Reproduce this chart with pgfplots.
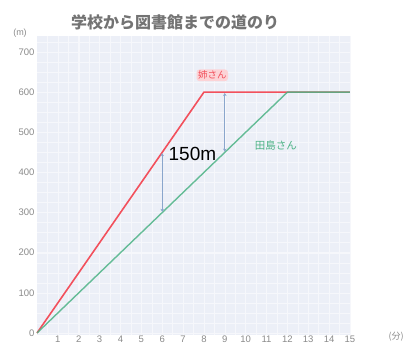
\documentclass[border=0pt]{standalone}
\usepackage{pgfplots}
\pgfplotsset{compat=1.18}
\usepackage{fontspec}
\setmainfont{Liberation Sans}
\newfontfamily\jp{Noto Sans CJK JP}
\usetikzlibrary{arrows.meta}
\definecolor{bgc}{HTML}{ECEFF7}
\definecolor{gridc}{HTML}{F6F7FB}
\definecolor{redl}{HTML}{F2505C}
\definecolor{greenl}{HTML}{4DB386}
\definecolor{arr}{HTML}{8AA6CC}
\definecolor{tick}{HTML}{8A8A8A}
\begin{document}
\begin{tikzpicture}[x=1pt,y=1pt]
\useasboundingbox (0,0) rectangle (403,353);
\begin{axis}[
  at={(37pt,18pt)}, anchor=south west,
  scale only axis, width=314pt, height=299pt,
  xmin=0, xmax=15.05, ymin=-5, ymax=740,
  axis line style={draw=none},
  axis background/.style={fill=bgc},
  xtick={1,...,15}, ytick={0,100,...,700},
  minor xtick={0.5,1,...,15}, minor ytick={25,50,...,725},
  grid=both,
  major grid style={gridc, line width=0.5pt},
  minor grid style={gridc, line width=0.4pt},
  tick style={draw=none},
  xticklabel style={font=\fontsize{9.5}{10}\selectfont, text=tick, yshift=3pt},
  yticklabel style={font=\fontsize{9.5}{10}\selectfont, text=tick, xshift=1pt},
  /pgf/number format/assume math mode=true,
  clip=false,
]
% Ane-san
\addplot[redl, line width=1.6pt, line join=round] coordinates {(0,0) (8,600) (15,600)};
% Tajima-san
\addplot[greenl, line width=1.4pt, opacity=0.85, line join=round] coordinates {(0,0) (12,600) (15,600)};
% difference arrows
\addplot[arr, line width=1.2pt, {Stealth[length=3pt,width=3.5pt]}-{Stealth[length=3pt,width=3.5pt]}] coordinates {(6,302) (6,448)};
\addplot[arr, line width=1.2pt, {Stealth[length=3pt,width=3.5pt]}-{Stealth[length=3pt,width=3.5pt]}] coordinates {(9,452) (9,598)};
\node[font=\fontsize{19}{20}\selectfont, text=black] at (axis cs:7.45,445) {150m};
\node[font=\jp\fontsize{9.5}{10}\selectfont, text=redl, fill=redl!25, rounded corners=3pt, inner sep=1.5pt] at (axis cs:8.4,642) {姉さん};
\node[font=\jp\fontsize{10.5}{11}\selectfont, text=greenl] at (axis cs:11.45,468) {田島さん};
\end{axis}
\node[font=\jp\bfseries\fontsize{16}{17}\selectfont, text=black!55] at (175,331) {学校から図書館までの道のり};
\node[font=\fontsize{9}{10}\selectfont, text=tick] at (20,320) {(m)};
\node[font=\jp\fontsize{9}{10}\selectfont, text=tick, anchor=west] at (385,16) {(分)};
\end{tikzpicture}
\end{document}
